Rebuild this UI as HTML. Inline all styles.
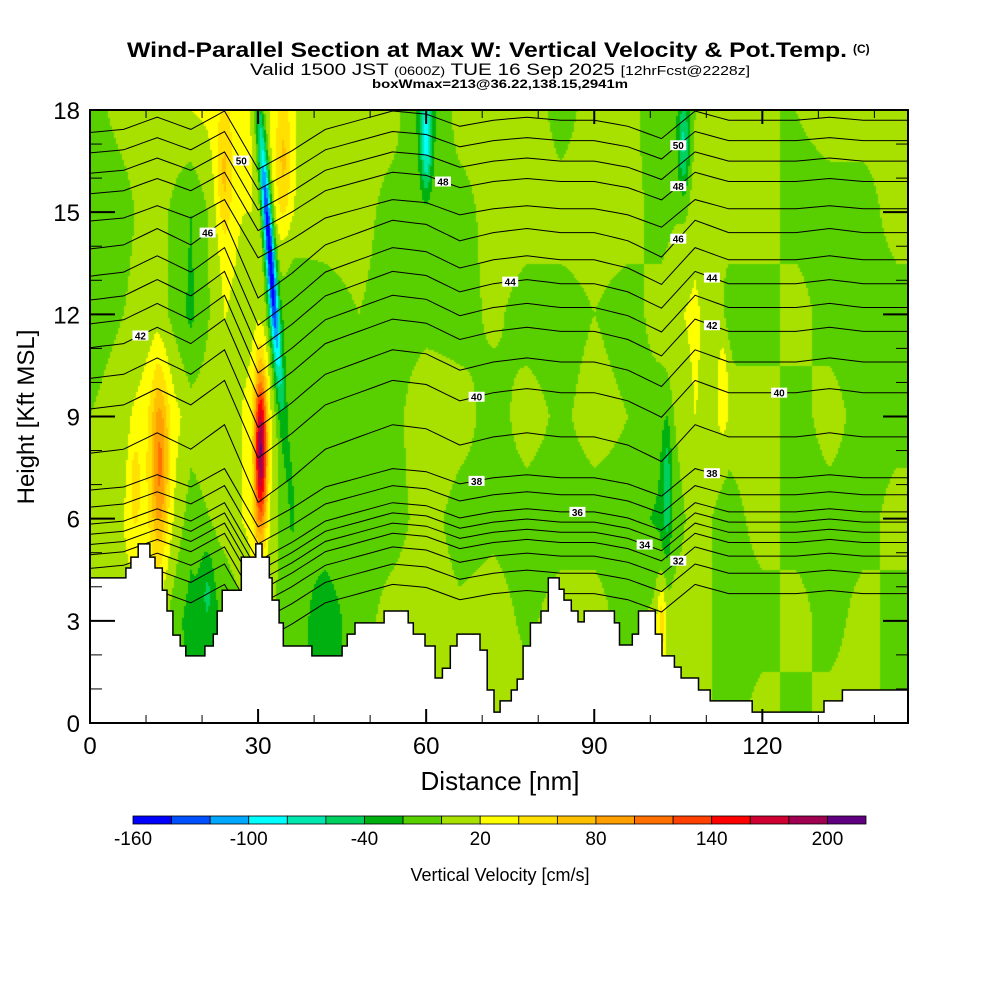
<!DOCTYPE html>
<html><head><meta charset="utf-8"><style>
html,body{margin:0;padding:0;background:#fff;width:1000px;height:1000px;overflow:hidden}
#wrap{position:relative;width:1000px;height:1000px}
canvas{position:absolute;left:90px;top:110px}
svg{position:absolute;left:0;top:0}
text{font-family:"Liberation Sans",sans-serif}
</style></head><body>
<div id="wrap">
<canvas id="field" width="818" height="613"></canvas>
<svg id="svg" width="1000" height="1000">
<text x="127" y="57" font-size="21" font-weight="bold" textLength="720" lengthAdjust="spacingAndGlyphs">Wind-Parallel Section at Max W: Vertical Velocity &amp; Pot.Temp.</text>
<text x="853" y="53" font-size="12" font-weight="bold">(C)</text>
<text x="250" y="75" font-size="17" textLength="500" lengthAdjust="spacingAndGlyphs">Valid 1500 JST <tspan font-size="12">(0600Z)</tspan> TUE 16 Sep 2025 <tspan font-size="13">[12hrFcst@2228z]</tspan></text>
<text x="372" y="88" font-size="12" font-weight="bold" textLength="256" lengthAdjust="spacingAndGlyphs">boxWmax=213@36.22,138.15,2941m</text>
<g id="contours"></g>
<g id="terrain"></g>
<g id="labels"></g>
<g id="axes"></g>
<text x="500" y="790" text-anchor="middle" font-size="26">Distance [nm]</text>
<text transform="translate(34,417) rotate(-90)" text-anchor="middle" font-size="24">Height [Kft MSL]</text>
<g id="cbar"></g>
<text x="500" y="881" text-anchor="middle" font-size="18">Vertical Velocity [cm/s]</text>
</svg>
</div>
<script>
// ---- data ----
const gridNm = [0,6,12,18,24,30,36,42,48,54,60,66,72,78,84,90,96,102,108,114,120,126,132,138,144];
const gridH = [0,3,6,9,12,15,18];
const wGrid = [
[10,10,10,0,-10,-10,-5],[10,15,20,10,0,-5,5],[10,10,40,45,10,10,10],[-20,-30,-10,10,-25,-20,20],
[-10,-20,10,10,20,20,30],[10,10,30,30,10,20,20],[-10,-10,-20,-15,-20,15,20],[-30,-30,-10,-10,-10,10,0],
[-10,-10,-10,-10,0,10,10],[10,10,-10,-10,-10,-10,10],[10,10,10,20,-10,0,-30],[5,5,-10,10,-10,-10,10],
[10,10,-5,-10,5,10,10],[10,-5,-10,10,-10,10,15],[15,10,-10,-5,-10,10,-10],[10,10,-10,10,0,10,10],
[10,-10,-10,0,-10,10,10],[25,10,-25,-10,10,-10,-20],[10,10,10,20,25,10,0],[-10,-10,-10,10,-10,10,10],
[10,-10,10,10,-10,10,0],[-10,10,-10,-10,10,-10,0],[10,-10,-10,10,-10,-10,10],[10,10,-10,-10,-10,-10,10],
[-10,-10,10,-10,-10,10,5]];
const featX = [30.5,32,12.5,34.5,60,106,103,102,113,8,24,21];
const featH = [8,14,7.5,16.5,17,17,7,3,10,7,16,4];
const featV = [175,-170,65,45,-70,-60,-40,40,30,25,40,-25];
const featSx = [1.1,0.9,1.5,1.5,1,1,0.8,0.8,1,1,1.5,1.2];
const featSh = [2.3,4,2.5,2,1.5,1.5,2,1.2,1.5,1.5,2,1.2];
const featTilt = [0,-0.45,0,0,0,0,0,0,0,0,0,0];
const cbColors = ["#0000ff","#0050ff","#00a8ff","#00ffff","#00e8b0","#00d060","#00b010","#58d000","#a8e000","#ffff00","#ffe000","#ffc000","#ffa000","#ff7000","#ff4000","#ff0000","#d00030","#a00050","#600080"];
const cbLabels = ["-160","-100","-40","20","80","140","200"];
const thetaLevels = [30,31,32,33,34,35,36,37,38,39,40,41,42,43,44,45,46,47,48,49,50,51];
const thetaBaseH = [3.8,4.4,4.9,5.3,5.6,5.9,6.2,6.7,7.2,8.4,9.7,10.6,11.5,12.2,12.9,13.6,14.4,15.1,15.9,16.5,17.1,17.7];
const thetaDisp = [-0.4,-0.3,0.1,-0.3,0.3,-1.6,-1.0,-0.3,0,0.3,0.2,-0.2,0,0.1,0,0,-0.2,-0.6,0.3,0,0,0,0.1,0,0];
const labelLevels = [32,34,36,38,40,42,44,46,48,50,38,40,42,44,46,48,50];
const labelCols = [17,16,14,11,11,1,12,3,10,4,18,20,18,18,17,17,17];
const terrNm = [0,6.4,7.3,8.6,10.7,11.6,12.9,13.75,14.8,16.1,17.1,20.5,22,22.7,23.6,27,29.6,30.7,32,32.5,33.75,34.5,39.6,45,45.9,47.3,52.5,56.8,57.7,59.8,61.6,62.9,64.3,65.5,69.6,70.9,72.1,73.2,75.2,76.25,77.3,78.6,80.5,81.8,83.75,84.6,85.9,87.1,88.2,93.6,94.5,96.8,97.9,100.9,102.1,104.3,105.5,108.6,110.7,118.2,131,134.3,146];
const terrH = [4.26,4.55,4.87,5.26,4.87,4.55,3.9,3.29,2.58,2.26,1.97,2.26,2.61,3.29,3.9,4.87,5.26,4.87,4.26,3.61,2.94,2.26,1.97,2.26,2.61,2.94,3.29,2.94,2.61,2.26,1.32,1.61,2.26,2.61,2.14,0.97,0.32,0.65,0.97,1.29,2.26,2.94,3.29,4.26,3.93,3.61,3.29,2.97,3.29,2.94,2.29,2.61,3.29,2.61,1.97,1.64,1.32,0.97,0.65,0.32,0.65,0.97,0.97];
const xTicks = [0,30,60,90,120];
const yTicks = [0,3,6,9,12,15,18];

// ---- scales ----
const X0=90,X1=908,Y0=723,Y1=110,XMAX=146,HMAX=18;
const sx = nm => X0 + nm*(X1-X0)/XMAX;
const sy = h => Y0 - h*(Y0-Y1)/HMAX;
const NS="http://www.w3.org/2000/svg";
function mk(tag, attrs, parent){const e=document.createElementNS(NS,tag);for(const k in attrs)e.setAttribute(k,attrs[k]);parent.appendChild(e);return e;}

function baseW(nm,h){
  let ci=Math.min(gridNm.length-2,Math.max(0,Math.floor(nm/6)));
  let tx=Math.min(1,Math.max(0,(nm-gridNm[ci])/6));
  let ri=Math.min(gridH.length-2,Math.max(0,Math.floor(h/3)));
  let ty=Math.min(1,Math.max(0,(h-gridH[ri])/3));
  const a=wGrid[ci][ri],b=wGrid[ci+1][ri],c=wGrid[ci][ri+1],d=wGrid[ci+1][ri+1];
  return (a*(1-tx)+b*tx)*(1-ty)+(c*(1-tx)+d*tx)*ty;
}
function wAt(nm,h){
  let v=baseW(nm,h);
  for(let i=0;i<featX.length;i++){
    const cx=featX[i]+featTilt[i]*(h-featH[i]);
    const dx=(nm-cx)/featSx[i], dh=(h-featH[i])/featSh[i];
    v+=featV[i]*Math.exp(-dx*dx-dh*dh);
  }
  return v;
}
const ctx=document.getElementById('field').getContext('2d');
const CW=2,CH=2;
for(let py=0;py<613;py+=CH){
  const h=HMAX*(1-(py+CH/2)/613);
  for(let px=0;px<818;px+=CW){
    const nm=XMAX*(px+CW/2)/818;
    let bin=Math.floor((wAt(nm,h)+160)/20);
    bin=Math.max(0,Math.min(18,bin));
    ctx.fillStyle=cbColors[bin];
    ctx.fillRect(px,py,CW,CH);
  }
}
const cg=document.getElementById('contours');
function dispAt(nm){
  let ci=Math.min(gridNm.length-2,Math.floor(nm/6));let t=(nm-gridNm[ci])/6;
  return thetaDisp[ci]*(1-t)+thetaDisp[ci+1]*t;
}
function wMul(h){return (h>8&&h<15)?1.2:0.9;}
thetaLevels.forEach((lv,i)=>{
  let pts=[];
  for(let nm=0;nm<=XMAX;nm+=2){
    pts.push(sx(nm).toFixed(1)+','+sy(thetaBaseH[i]+dispAt(nm)*wMul(thetaBaseH[i])).toFixed(1));
  }
  const p=mk('polyline',{points:pts.join(' '),fill:'none',stroke:'#000','stroke-width':1},cg);
  
  
});
const tg=document.getElementById('terrain');
let tp=[sx(0)+','+sy(0)];
for(let i=0;i<terrNm.length-1;i++){
  tp.push(sx(terrNm[i]).toFixed(1)+','+sy(terrH[i]).toFixed(1));
  tp.push(sx(terrNm[i+1]).toFixed(1)+','+sy(terrH[i]).toFixed(1));
}
tp.push(sx(XMAX)+','+sy(0));
const terr=mk('polygon',{points:tp.join(' '),fill:'#fff',stroke:'#000','stroke-width':1.5},tg);


const lg=document.getElementById('labels');
labelLevels.forEach((lv,k)=>{
  const i=thetaLevels.indexOf(lv);const nm=gridNm[labelCols[k]]+3;
  const x=sx(nm),y=sy(thetaBaseH[i]+dispAt(nm)*wMul(thetaBaseH[i]));
  const r=mk('rect',{x:x-8,y:y-5,width:16,height:10,fill:'#fff'},lg);
  
  
  const t=mk('text',{x:x,y:y+4,'text-anchor':'middle','font-size':10,'font-weight':'bold'},lg);
  t.textContent=lv;
  
  
});
const ag=document.getElementById('axes');
const frame=mk('rect',{x:X0,y:Y1,width:X1-X0,height:Y0-Y1,fill:'none',stroke:'#000','stroke-width':2},ag);


for(let nm=0;nm<=XMAX;nm+=10){
  const major=nm%30===0;const L=major?14:8;const x=sx(nm);
  mk('line',{x1:x,y1:Y0,x2:x,y2:Y0-L,stroke:'#000','stroke-width':major?2:1},ag);
  mk('line',{x1:x,y1:Y1,x2:x,y2:Y1+L,stroke:'#000','stroke-width':major?2:1},ag);
}
for(let h=0;h<=HMAX;h+=1){
  const major=h%3===0;const L=major?25:12;const y=sy(h);
  mk('line',{x1:X0,y1:y,x2:X0+L,y2:y,stroke:'#000','stroke-width':major?2:1},ag);
  mk('line',{x1:X1,y1:y,x2:X1-L,y2:y,stroke:'#000','stroke-width':major?2:1},ag);
}
xTicks.forEach(v=>{const t=mk('text',{x:sx(v),y:754,'text-anchor':'middle','font-size':24},ag);t.textContent=v;
  });
yTicks.forEach(v=>{const t=mk('text',{x:80,y:sy(v)+9,'text-anchor':'end','font-size':24},ag);t.textContent=v;
  });
const cb=document.getElementById('cbar');
const cbX0=133,cbW=(866-133)/cbColors.length;
cbColors.forEach((c,i)=>{const r=mk('rect',{x:cbX0+i*cbW,y:816,width:cbW,height:8,fill:c,stroke:'#000','stroke-width':0.8},cb);
  });
cbLabels.forEach((l,i)=>{const t=mk('text',{x:cbX0+i*3*cbW,y:845,'text-anchor':'middle','font-size':19},cb);t.textContent=l;
  });
</script>
</body></html>
